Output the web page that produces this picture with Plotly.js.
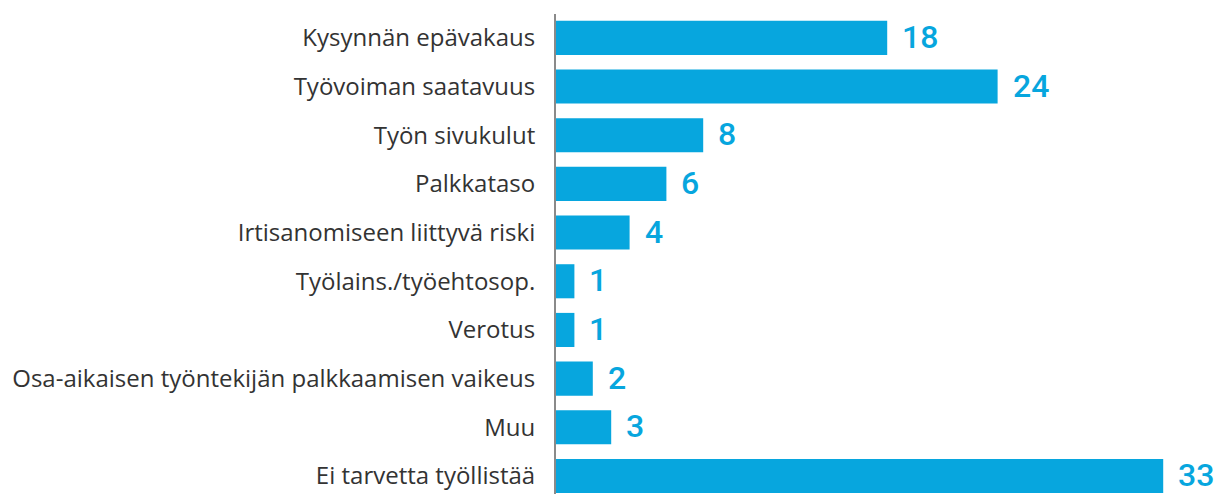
<!DOCTYPE html>
<html><head><meta charset="utf-8">
<script src="https://cdn.plot.ly/plotly-3.0.1.min.js"></script>
<style>html,body{margin:0;padding:0;background:#fff}#chart{width:1214px;height:494px}</style>
</head><body><div id="chart"></div>
<script>
const categories = [
  "Kysynnän epävakaus",
  "Työvoiman saatavuus",
  "Työn sivukulut",
  "Palkkataso",
  "Irtisanomiseen liittyvä riski",
  "Työlains./työehtosop.",
  "Verotus",
  "Osa-aikaisen työntekijän palkkaamisen vaikeus",
  "Muu",
  "Ei tarvetta työllistää"
];
const values = [18, 24, 8, 6, 4, 1, 1, 2, 3, 33];

const barColor = "#07a6de";
const idx = categories.map((c, i) => i);

const trace = {
  type: "bar",
  orientation: "h",
  x: values,
  y: idx,
  width: 0.7,
  marker: {color: barColor},
  hoverinfo: "none"
};

const annotations = values.map((v, i) => ({
  x: v, y: i, xref: "x", yref: "y",
  text: String(v), showarrow: false,
  xanchor: "left", yanchor: "middle", xshift: 13, yshift: 1,
  font: {family: "Roboto", size: 32, color: barColor, weight: 500}
}));

const layout = {
  width: 1214, height: 494,
  margin: {l: 556, r: 0, t: 14, b: 0, pad: 0},
  paper_bgcolor: "#fff", plot_bgcolor: "#fff",
  showlegend: false,
  bargap: 0.3,
  xaxis: {range: [0, 35.76], visible: false, fixedrange: true},
  yaxis: {
    range: [9.37, -0.49],
    tickmode: "array", tickvals: idx, ticktext: categories,
    showline: true, linecolor: "#8a8a8a", linewidth: 2,
    showgrid: false, zeroline: false,
    ticks: "outside", ticklen: 14, tickcolor: "rgba(0,0,0,0)",
    tickfont: {family: "Open Sans", size: 24, color: "#333", weight: 400}
  },
  annotations: annotations
};

Plotly.newPlot("chart", [trace], layout, {staticPlot: true, displayModeBar: false});
</script></body></html>
